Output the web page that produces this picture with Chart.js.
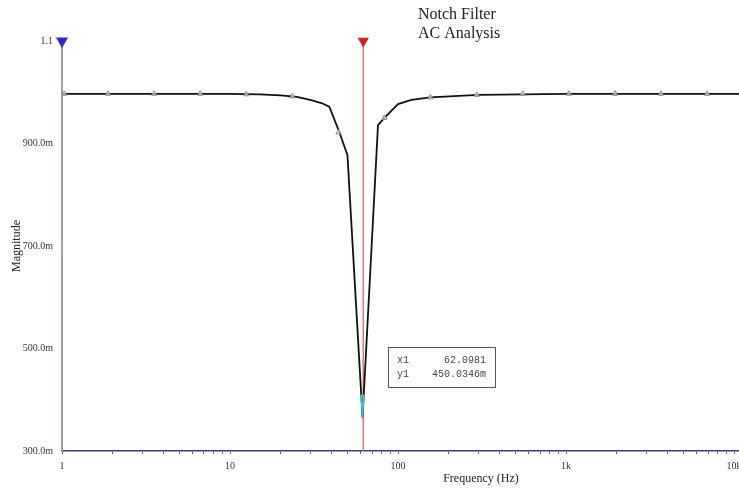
<!DOCTYPE html>
<html lang="en">
<head>
<meta charset="UTF-8" />
<title>Notch Filter AC Analysis</title>
<script src="https://cdn.jsdelivr.net/npm/chart.js"></script>
<style>
  html, body { margin: 0; padding: 0; background: #ffffff; overflow: hidden; }
  .chart-container { width: 739px; height: 489px; position: relative; }
</style>
</head>
<body>
<div class="chart-container">
  <canvas id="acChart"></canvas>
</div>
<script>
// magnitude response
const freqHz = [1, 5, 10, 15, 20, 25, 30, 35, 39, 45, 50, 61.5, 76, 83, 100, 120, 155, 300, 1000, 3000, 10700];
const magnitude = [0.997, 0.997, 0.997, 0.996, 0.994, 0.991, 0.985, 0.979, 0.972, 0.92, 0.877, 0.365, 0.936, 0.95, 0.977, 0.985, 0.99, 0.995, 0.997, 0.997, 0.997];

// triangle sample markers along the trace
const markerHz = [1.03, 1.88, 3.54, 6.65, 12.5, 23.5, 44.2, 83, 156, 294, 553, 1040, 1955, 3675, 6910];
const markerMag = [0.997, 0.997, 0.997, 0.997, 0.996, 0.992, 0.922, 0.95, 0.99, 0.995, 0.997, 0.997, 0.997, 0.997, 0.997];

// cursor-highlighted bit at the bottom of the notch
const tipHz = [60.4, 61.5, 62.5];
const tipMag = [0.41, 0.365, 0.41];

// cursors
const cursor1Hz = 62.0981;
const cursor2Hz = 1;
const readout = ["x1", "62.0981", "y1", "450.0346m"];

// axes
const xMin = 1, xMax = 10700;
const yMin = 0.3, yMax = 1.1;
const xDecades = [1, 10, 100, 1000, 10000];
const xTickLabels = ["1", "10", "100", "1k", "10k"];
const yTickValues = [0.3, 0.5, 0.7, 0.9, 1.1];
const yTickLabels = ["300.0m", "500.0m", "700.0m", "900.0m", "1.1"];

const toPts = (xs, ys) => xs.map((x, i) => ({ x: x, y: ys[i] }));

const textPlugin = {
    id: "textPlugin",
    afterDraw(chart) {
        const c = chart.ctx;
        c.save();
        c.fillStyle = "#222";
        c.font = "16px 'Liberation Serif', 'Times New Roman', serif";
        c.textAlign = "left";
        c.textBaseline = "alphabetic";
        c.fillText("Notch Filter", 418, 19);
        c.fillText("AC Analysis", 418, 38);

        c.font = "12px 'Liberation Serif', 'Times New Roman', serif";
        c.textAlign = "center";
        c.fillText("Frequency (Hz)", 481, 482);
        c.translate(20, 246);
        c.rotate(-Math.PI / 2);
        c.fillText("Magnitude", 0, 0);
        c.restore();

        // cursor readout box
        c.save();
        c.fillStyle = "#fff";
        c.fillRect(388, 347, 108, 41);
        c.strokeStyle = "#555";
        c.lineWidth = 1;
        c.strokeRect(388.5, 347.5, 107, 40);
        c.fillStyle = "#444";
        c.font = "10px 'Liberation Mono', 'Courier New', monospace";
        c.textAlign = "left";
        c.fillText(readout[0], 397, 363);
        c.fillText(readout[2], 397, 377);
        c.textAlign = "right";
        c.fillText(readout[1], 486, 363);
        c.fillText(readout[3], 486, 377);
        c.restore();
    },
};

const ctx = document.getElementById("acChart").getContext("2d");
new Chart(ctx, {
    type: "scatter",
    data: {
        datasets: [
            {
                label: "Cursor 2",
                data: toPts([cursor2Hz, cursor2Hz], [yMin, yMax]),
                showLine: true,
                borderColor: "#9a9acd",
                borderWidth: 2,
                pointStyle: "triangle",
                rotation: 180,
                pointRadius: [0, 5],
                backgroundColor: "#2a2ac8",
                pointBorderColor: "#2a2ac8",
                clip: false,
                order: 3,
            },
            {
                label: "Cursor 1",
                data: toPts([cursor1Hz, cursor1Hz], [yMin, yMax]),
                showLine: true,
                borderColor: "#dd7a7a",
                borderWidth: 1.5,
                pointStyle: "triangle",
                rotation: 180,
                pointRadius: [0, 5],
                backgroundColor: "#d82020",
                pointBorderColor: "#d82020",
                clip: false,
                order: 3,
            },
            {
                label: "Magnitude",
                data: toPts(freqHz, magnitude),
                showLine: true,
                borderColor: "#111",
                borderWidth: 1.8,
                pointRadius: 0,
                tension: 0,
                order: 2,
            },
            {
                label: "Tip",
                data: toPts(tipHz, tipMag),
                showLine: true,
                borderColor: "#3cc8d0",
                borderWidth: 1.5,
                pointRadius: 0,
                order: 1,
            },
            {
                label: "Markers",
                data: toPts(markerHz, markerMag),
                showLine: false,
                pointStyle: "triangle",
                pointRadius: 3,
                borderWidth: 1,
                pointBorderColor: "#888",
                pointBackgroundColor: "rgba(255,255,255,0.6)",
                order: 0,
            },
        ],
    },
    options: {
        responsive: true,
        maintainAspectRatio: false,
        animation: false,
        layout: {
            autoPadding: false, // point overflow was eating the right edge
            padding: { top: 41, right: 0, left: 0, bottom: 0 },
        },
        plugins: {
            legend: { display: false },
            tooltip: { enabled: false },
        },
        scales: {
            x: {
                type: "logarithmic",
                min: xMin,
                max: xMax,
                afterBuildTicks(scale) {
                    const t = [];
                    for (const d of xDecades) {
                        for (let m = 1; m <= 9; m++) {
                            if (d * m <= xDecades[xDecades.length - 1]) t.push({ value: d * m });
                        }
                    }
                    // unlabeled end tick so the plot runs to the right edge
                    t.push({ value: xMax });
                    scale.ticks = t;
                },
                afterFit(scale) {
                    scale.height = 38;
                    scale.paddingRight = 0;
                },
                ticks: {
                    autoSkip: false,
                    maxRotation: 0,
                    padding: 0,
                    color: "#333",
                    font: { family: "'Liberation Serif', serif", size: 10, lineHeight: 2.4 },
                    callback(v) {
                        const i = xDecades.indexOf(v);
                        return i >= 0 ? xTickLabels[i] : "";
                    },
                },
                grid: {
                    drawOnChartArea: false,
                    drawTicks: true,
                    tickLength: 3,
                    color: (c) => (c.tick && c.tick.value === xMax ? "rgba(0,0,0,0)" : "#666"),
                },
                border: { color: "#3a3a8c", width: 1.5 },
            },
            y: {
                type: "linear",
                min: yMin,
                max: yMax,
                afterBuildTicks(scale) {
                    scale.ticks = yTickValues.map((v) => ({ value: v }));
                },
                afterFit(scale) { scale.width = 62; },
                ticks: {
                    padding: 9,
                    color: "#333",
                    font: { family: "'Liberation Serif', serif", size: 10 },
                    callback(v) {
                        const i = yTickValues.findIndex((t) => Math.abs(t - v) < 1e-9);
                        return i >= 0 ? yTickLabels[i] : "";
                    },
                },
                grid: { display: false, drawTicks: false },
                border: { display: false },
            },
        },
    },
    plugins: [textPlugin],
});
</script>
</body>
</html>
